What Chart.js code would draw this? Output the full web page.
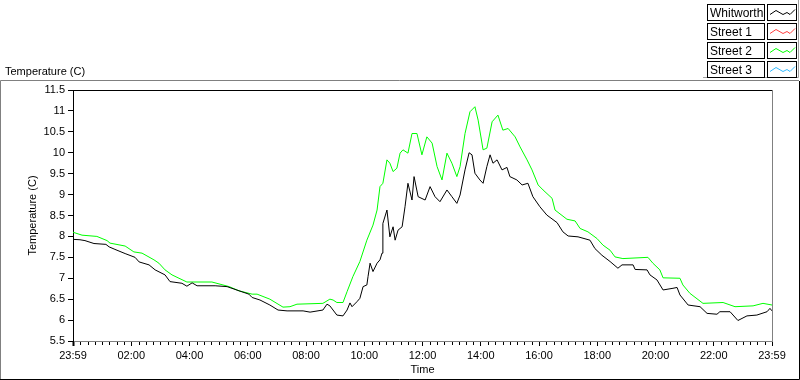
<!DOCTYPE html>
<html><head><meta charset="utf-8">
<script src="https://cdn.jsdelivr.net/npm/chart.js@4/dist/chart.umd.min.js"></script>
<style>html,body{margin:0;padding:0;background:#fff;}canvas{display:block;}</style>
</head><body>
<canvas id="c" width="800" height="380"></canvas>
<script>
// ---------- data ----------
const seriesNames  = ['Whitworth', 'Street 1', 'Street 2', 'Street 3'];
const seriesColors = ['#000000', '#ff4040', '#00ff00', '#33bbff'];

// hours after 23:59 of previous day
const whitworthHours = [0,0.24,0.41,0.72,1.13,1.24,1.44,1.79,2.13,2.27,2.61,2.82,3.16,3.33,3.74,3.91,4.09,4.26,4.88,5.29,5.70,6.04,6.15,6.42,6.76,7.04,7.35,7.90,8.14,8.58,8.72,8.82,9.06,9.27,9.41,9.51,9.58,9.75,9.85,9.96,10.09,10.13,10.20,10.30,10.44,10.54,10.61,10.64,10.78,10.88,10.99,11.06,11.16,11.30,11.40,11.50,11.64,11.71,11.85,12.09,12.26,12.43,12.60,12.84,13.01,13.18,13.29,13.46,13.60,13.70,13.80,13.97,14.08,14.21,14.32,14.42,14.56,14.73,14.90,15.00,15.24,15.42,15.62,15.79,16.03,16.27,16.62,16.82,17.00,17.34,17.75,17.92,18.16,18.44,18.71,18.85,19.23,19.30,19.71,19.81,20.05,20.26,20.60,20.74,20.84,21.12,21.53,21.77,22.11,22.21,22.56,22.83,23.14,23.48,23.83,23.93,24.00];
const whitworthTemp  = [7.93,7.92,7.90,7.83,7.81,7.75,7.69,7.59,7.50,7.39,7.32,7.20,7.08,6.92,6.88,6.81,6.89,6.82,6.82,6.80,6.70,6.62,6.54,6.48,6.36,6.24,6.22,6.22,6.19,6.24,6.38,6.34,6.12,6.10,6.24,6.41,6.32,6.44,6.52,6.80,6.84,7.04,7.36,7.16,7.36,7.44,7.60,8.31,8.63,7.99,8.23,7.91,8.15,8.23,8.71,9.27,8.87,9.43,8.95,8.87,9.19,8.95,8.83,9.11,8.95,8.79,8.99,9.59,10.00,9.95,9.51,9.35,9.27,9.67,9.95,9.75,9.83,9.59,9.65,9.43,9.35,9.23,9.27,8.95,8.71,8.51,8.33,8.11,8.01,7.99,7.91,7.71,7.55,7.40,7.24,7.32,7.32,7.21,7.20,7.08,6.96,6.72,6.76,6.78,6.60,6.36,6.32,6.16,6.14,6.20,6.20,5.99,6.10,6.12,6.20,6.28,6.22];

const street2Hours = [0,0.31,0.82,1.17,1.27,1.79,2.09,2.37,2.78,2.95,3.16,3.40,3.64,3.91,4.77,5.36,5.70,6.15,6.32,6.76,7.21,7.45,7.69,8.58,8.82,8.93,9.06,9.27,9.41,9.61,9.85,10.09,10.30,10.44,10.54,10.64,10.78,10.88,10.99,11.12,11.23,11.33,11.50,11.64,11.81,11.98,12.15,12.33,12.50,12.67,12.84,13.01,13.18,13.29,13.46,13.63,13.80,13.91,14.08,14.21,14.39,14.59,14.76,14.94,15.18,15.35,15.59,15.76,15.97,16.14,16.45,16.55,16.96,17.24,17.41,17.68,17.99,18.20,18.44,18.61,18.88,19.74,19.91,20.15,20.26,20.84,20.94,21.18,21.63,22.32,22.73,23.35,23.69,24.00];
const street2Temp  = [8.10,8.03,8.00,7.90,7.84,7.77,7.63,7.60,7.44,7.36,7.20,7.08,7.00,6.91,6.91,6.80,6.70,6.62,6.62,6.50,6.31,6.32,6.38,6.40,6.50,6.48,6.42,6.42,6.68,7.04,7.40,7.91,8.27,8.63,9.19,9.27,9.83,9.75,9.55,9.63,9.99,10.07,9.99,10.46,10.46,9.95,10.38,10.23,9.67,9.35,9.99,9.75,9.43,9.67,10.46,10.98,11.10,10.78,10.07,10.11,10.74,10.90,10.54,10.58,10.38,10.14,9.83,9.59,9.23,9.11,8.91,8.63,8.41,8.37,8.19,8.11,7.95,7.79,7.67,7.51,7.47,7.50,7.36,7.20,7.01,7.00,6.84,6.64,6.40,6.42,6.32,6.34,6.40,6.36];

const street1Hours = [];
const street1Temp  = [];
const street3Hours = [];
const street3Temp  = [];

const xTickHours  = [0,2,4,6,8,10,12,14,16,18,20,22,24];
const xTickLabels = ['23:59','02:00','04:00','06:00','08:00','10:00','12:00','14:00','16:00','18:00','20:00','22:00','23:59'];
const yMin = 5.5, yMax = 11.5, yStep = 0.5;
const yAxisTitle = 'Temperature (C)';
const xAxisTitle = 'Time';

// ---------- build ----------
const FONT = '"Liberation Sans", Arial, sans-serif';
Chart.defaults.font.family = FONT;
Chart.defaults.font.size = 11;
Chart.defaults.color = '#000';

function pts(h, v) { return h.map((x, i) => ({ x: x, y: v[i] })); }
const seriesData = [pts(whitworthHours, whitworthTemp), pts(street1Hours, street1Temp),
                    pts(street2Hours, street2Temp), pts(street3Hours, street3Temp)];

const framePlugin = {
  id: 'frame',
  beforeDraw(chart) {
    const ctx = chart.ctx;
    ctx.save();
    ctx.fillStyle = '#fff';
    ctx.fillRect(0, 0, chart.width, chart.height);
    ctx.lineWidth = 1;
    // outer frame
    ctx.strokeStyle = '#808080';
    ctx.beginPath(); ctx.moveTo(0.5, 379); ctx.lineTo(0.5, 80.5); ctx.lineTo(799, 80.5); ctx.stroke();
    ctx.strokeStyle = '#000';
    ctx.beginPath(); ctx.moveTo(0, 379.5); ctx.lineTo(799.5, 379.5); ctx.lineTo(799.5, 81); ctx.stroke();
    // top-left label
    ctx.font = '11px ' + FONT;
    ctx.fillStyle = '#000'; ctx.textAlign = 'left'; ctx.textBaseline = 'alphabetic';
    ctx.fillText(yAxisTitle, 5, 75);
    // legend
    ctx.strokeStyle = '#a0a0a0';
    ctx.beginPath(); ctx.moveTo(798.5, 0); ctx.lineTo(798.5, 77.5); ctx.lineTo(703, 77.5); ctx.stroke();
    const zig = [[2,10],[8,6],[15,10],[19,8],[22,10],[27,5]];
    chart.data.datasets.forEach((ds, i) => {
      const y0 = 4 + 19 * i;
      ctx.fillStyle = '#fff';
      ctx.fillRect(707, y0, 58, 17);
      ctx.fillRect(767, y0, 30, 17);
      ctx.strokeStyle = '#000';
      ctx.strokeRect(707.5, y0 + 0.5, 57, 16);
      ctx.strokeRect(767.5, y0 + 0.5, 29, 16);
      ctx.fillStyle = '#000';
      ctx.font = '12px ' + FONT;
      ctx.fillText(ds.label, 710, y0 + 13);
      ctx.strokeStyle = ds.borderColor;
      ctx.beginPath();
      zig.forEach((p, k) => { const px = 768 + p[0], py = y0 + p[1] + 0.5; k ? ctx.lineTo(px, py) : ctx.moveTo(px, py); });
      ctx.stroke();
    });
    ctx.restore();
  },
  afterDraw(chart) {
    const ctx = chart.ctx;
    const { left, top, right, bottom } = chart.chartArea;
    ctx.save();
    ctx.lineWidth = 1;
    ctx.strokeStyle = '#000';
    ctx.beginPath(); ctx.moveTo(left - 1, top + 0.5); ctx.lineTo(right, top + 0.5); ctx.stroke();
    ctx.strokeStyle = '#808080';
    ctx.beginPath(); ctx.moveTo(right + 0.5, top); ctx.lineTo(right + 0.5, bottom + 1); ctx.stroke();
    // minor ticks every 15 min
    const xs = chart.scales.x;
    ctx.strokeStyle = '#000';
    ctx.beginPath();
    for (let q = 1; q < 96; q++) {
      if (q % 8 === 0) continue;
      const px = Math.round(xs.getPixelForValue(q / 4)) + 0.5;
      ctx.moveTo(px, bottom + 1); ctx.lineTo(px, bottom + 4);
    }
    ctx.stroke();
    ctx.restore();
  }
};

new Chart(document.getElementById('c'), {
  type: 'line',
  data: {
    datasets: seriesNames.map((n, i) => ({
      label: n,
      data: seriesData[i],
      borderColor: seriesColors[i],
      backgroundColor: seriesColors[i],
      borderWidth: 1,
      pointRadius: 0,
      tension: 0,
      fill: false
    }))
  },
  options: {
    responsive: false,
    animation: false,
    devicePixelRatio: 1,
    layout: { padding: { top: 90, right: 28, left: 0, bottom: 0 } },
    plugins: { legend: { display: false }, tooltip: { enabled: false } },
    scales: {
      x: {
        type: 'linear', min: 0, max: 24,
        afterBuildTicks: s => { s.ticks = xTickHours.map(v => ({ value: v })); },
        afterFit: s => { s.height = 39; },
        ticks: { autoSkip: false, maxRotation: 0, padding: 3, callback: (v, i) => xTickLabels[i] },
        grid: { drawOnChartArea: false, drawTicks: true, tickLength: 5, tickColor: '#000',
                tickWidth: c => (c.index === 0 ? 2 : 1) },
        border: { color: '#808080', width: 1 },
        title: { display: true, text: xAxisTitle, padding: { top: 0, bottom: 3 } }
      },
      y: {
        type: 'linear', min: yMin, max: yMax,
        afterFit: s => { s.width = 73; },
        ticks: { stepSize: yStep, padding: 3, callback: v => String(Number(v.toFixed(1))) },
        grid: { drawOnChartArea: false, drawTicks: true, tickLength: 5, tickColor: '#000' },
        border: { color: '#000', width: 1 },
        title: { display: true, text: yAxisTitle, padding: { top: 26, bottom: 0 } }
      }
    }
  },
  plugins: [framePlugin]
});
</script>
</body></html>
